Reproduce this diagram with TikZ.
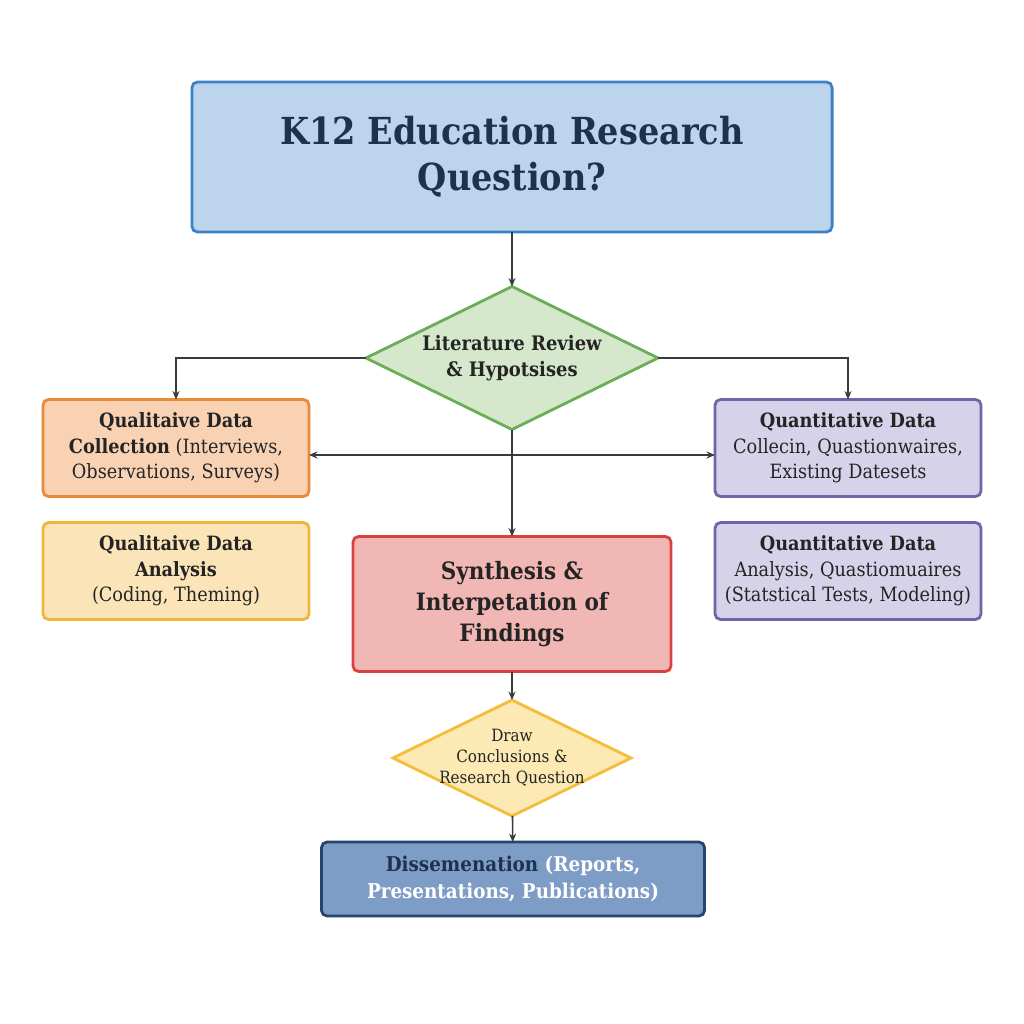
\documentclass[tikz,border=0pt]{standalone}
\usepackage{fontspec}
\setmainfont{DejaVu Serif Condensed}
\usetikzlibrary{shapes.geometric,arrows.meta}

\definecolor{ink}{HTML}{242424}
\definecolor{navy}{HTML}{1E3250}
\definecolor{topfill}{HTML}{BDD5EC}
\definecolor{topline}{HTML}{3C82C4}
\definecolor{litfill}{HTML}{D5E8CB}
\definecolor{litline}{HTML}{6AAF55}
\definecolor{orgfill}{HTML}{F9D2B4}
\definecolor{orgline}{HTML}{E88A3C}
\definecolor{ylwfill}{HTML}{FBE4B8}
\definecolor{ylwline}{HTML}{F1B53C}
\definecolor{prpfill}{HTML}{D6D2EA}
\definecolor{prpline}{HTML}{7462AA}
\definecolor{redfill}{HTML}{F1B7B5}
\definecolor{redline}{HTML}{D8433F}
\definecolor{confill}{HTML}{FCE9B3}
\definecolor{conline}{HTML}{F3BF3A}
\definecolor{disfill}{HTML}{7E9DC6}
\definecolor{disline}{HTML}{25446F}

\begin{document}
\begin{tikzpicture}[x=0.025cm, y=-0.025cm, outer sep=0pt]

\tikzstyle{box}=[draw, rectangle, rounded corners=4pt, line width=2pt, align=center, text=ink, font=\fontsize{14}{18}\selectfont]
\tikzstyle{choice}=[draw, diamond, line width=2pt, inner sep=0pt, aspect=2.04, align=center, text=ink]
\tikzstyle{flow}=[-{Stealth[length=6pt,width=5pt]}, draw=ink!90, line width=1.1pt]

\fill[white] (0,0) rectangle (1024,1024);

\node[box, fill=topfill, draw=topline, minimum width=16cm, minimum height=3.75cm, text=navy, font=\bfseries\fontsize{26.5}{33}\selectfont] (rq) at (512,157) {K12 Education Research\\Question?};
\node[choice, fill=litfill, draw=litline, minimum width=7.3cm, minimum height=3.575cm, font=\bfseries\fontsize{14.2}{18.5}\selectfont] (lit) at (512,358) {Literature Review\\\& Hypotsises};

\node[box, fill=orgfill, draw=orgline, minimum width=6.65cm, minimum height=2.425cm] (qlc) at (176,448) {\textbf{Qualitaive Data}\\\textbf{Collection} (Interviews,\\Observations, Surveys)};
\node[box, fill=prpfill, draw=prpline, minimum width=6.65cm, minimum height=2.425cm] (qnc) at (848,448) {\textbf{Quantitative Data}\\Collecin, Quastionwaires,\\Existing Datesets};
\node[box, fill=ylwfill, draw=ylwline, minimum width=6.65cm, minimum height=2.425cm] (qla) at (176,571) {\textbf{Qualitaive Data}\\\textbf{Analysis}\\(Coding, Theming)};
\node[box, fill=prpfill, draw=prpline, minimum width=6.65cm, minimum height=2.425cm] (qna) at (848,571) {\textbf{Quantitative Data}\\Analysis, Quastiomuaires\\(Statstical Tests, Modeling)};

\node[box, fill=redfill, draw=redline, minimum width=7.95cm, minimum height=3.375cm, font=\bfseries\fontsize{17}{22}\selectfont] (syn) at (512,604) {Synthesis \&\\Interpetation of\\Findings};
\node[choice, fill=confill, draw=conline, inner sep=-3pt, minimum width=5.95cm, minimum height=2.9cm, font=\fontsize{12}{15}\selectfont] (con) at (512,758) {Draw\\Conclusions \&\\Research Question};
\node[box, fill=disfill, draw=disline, minimum width=9.575cm, minimum height=1.85cm, text=white, font=\bfseries\fontsize{14.5}{19}\selectfont] (dis) at (513,879) {\textcolor{navy}{Dissemenation} (Reports,\\Presentations, Publications)};

\coordinate (hub) at (512,455);

\draw[flow] (rq) -- (lit);
\draw[flow] (lit.west) -| (qlc);
\draw[flow] (lit.east) -| (qnc);
\draw[flow] (lit) -- (syn);
\draw[flow] (hub) -- (qlc.east |- hub);
\draw[flow] (hub) -- (qnc.west |- hub);
\draw[flow] (syn) -- (con);
\draw[flow] (con) -- (dis);

\end{tikzpicture}
\end{document}
